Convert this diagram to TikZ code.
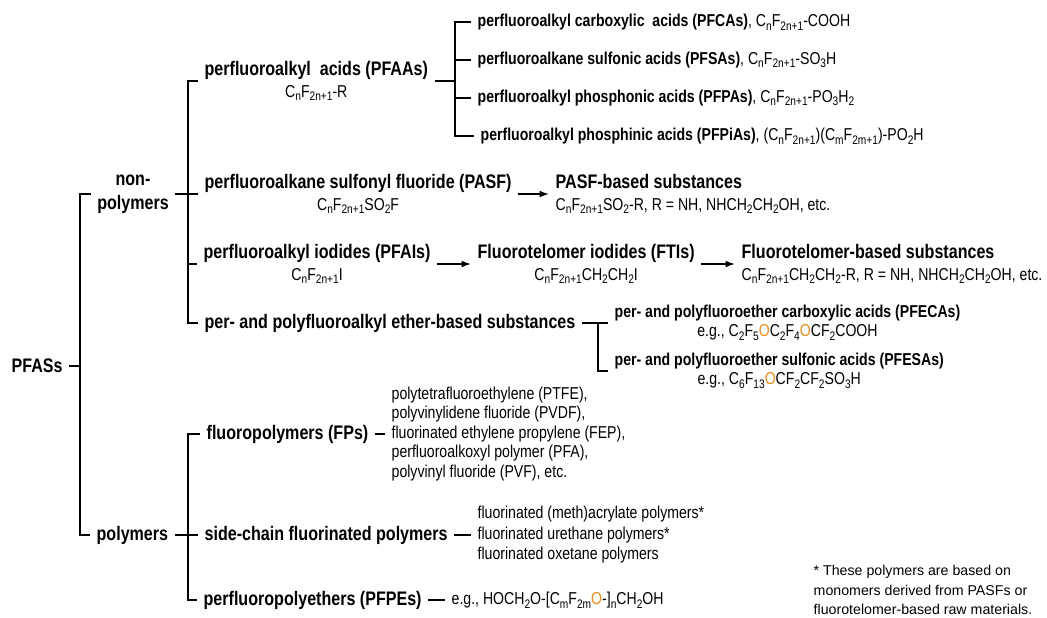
\documentclass[tikz,border=0pt]{standalone}
\usepackage{fontspec}
\setmainfont{Liberation Sans}[FakeStretch=0.82]
\newfontfamily\notefont{Liberation Sans}
\usetikzlibrary{arrows.meta}
\definecolor{etherO}{RGB}{232,140,30}
\newcommand{\chsub}[1]{\raisebox{-0.4ex}{\fontsize{9.3}{9.3}\selectfont#1}}
\newcommand{\eo}{\textcolor{etherO}{O}}
\newcommand{\ttl}{\fontsize{14.7}{16.1}\selectfont\bfseries}

\begin{document}
\begin{tikzpicture}[x=0.75pt,y=-0.75pt,line width=1pt,
  every node/.style={inner sep=0pt,outer xsep=5pt,font=\fontsize{12.9}{16.1}\selectfont},
  head/.style={anchor=west,align=center},
  arr/.style={-{Latex[length=7pt,width=5pt]}}]
\useasboundingbox (0,0) rectangle (1047,618);
\node[anchor=west,font=\ttl] (pfas) at (5,366) {PFASs};
\node[align=center,font=\fontsize{14.7}{18}\selectfont\bfseries] (nonpoly) at (133,194) {non-\\polymers};
\node[anchor=west,font=\ttl] (poly) at (90,535) {polymers};
\node[head] (pfaa) at (198,81) {{\ttl perfluoroalkyl\ \ acids (PFAAs)}\\C\chsub{n}F\chsub{2n+1}-R};
\node[head] (pasf) at (198,194) {{\ttl perfluoroalkane sulfonyl fluoride (PASF)}\\C\chsub{n}F\chsub{2n+1}SO\chsub{2}F};
\node[head] (pfai) at (197,264) {{\ttl perfluoroalkyl iodides (PFAIs)}\\C\chsub{n}F\chsub{2n+1}I};
\node[anchor=west,font=\ttl] (ether) at (198,323) {per- and polyfluoroalkyl ether-based substances};
\node[anchor=west] (pfca) at (471,22) {{\bfseries perfluoroalkyl carboxylic\ \ acids (PFCAs)}, C\chsub{n}F\chsub{2n+1}-COOH};
\node[anchor=west] (pfsa) at (471,60) {{\bfseries perfluoroalkane sulfonic acids (PFSAs)}, C\chsub{n}F\chsub{2n+1}-SO\chsub{3}H};
\node[anchor=west] (pfpa) at (471,98) {{\bfseries perfluoroalkyl phosphonic acids (PFPAs)}, C\chsub{n}F\chsub{2n+1}-PO\chsub{3}H\chsub{2}};
\node[anchor=west] (pfpia) at (474,136) {{\bfseries perfluoroalkyl phosphinic acids (PFPiAs)}, (C\chsub{n}F\chsub{2n+1})(C\chsub{m}F\chsub{2m+1})-PO\chsub{2}H};
\node[anchor=west,align=left] (pasfb) at (549,194) {{\ttl PASF-based substances}\\C\chsub{n}F\chsub{2n+1}SO\chsub{2}-R, R = NH, NHCH\chsub{2}CH\chsub{2}OH, etc.};
\node[head] (fti) at (471,264) {{\ttl Fluorotelomer iodides (FTIs)}\\C\chsub{n}F\chsub{2n+1}CH\chsub{2}CH\chsub{2}I};
\node[anchor=west,align=left] (ftb) at (735,264) {{\ttl Fluorotelomer-based substances}\\C\chsub{n}F\chsub{2n+1}CH\chsub{2}CH\chsub{2}-R, R = NH, NHCH\chsub{2}CH\chsub{2}OH, etc.};
\node[head,font=\fontsize{12.9}{14.3}\selectfont] (pfeca) at (608,323) {{\bfseries per- and polyfluoroether carboxylic acids (PFECAs)}\\e.g., C\chsub{2}F\chsub{5}\eo C\chsub{2}F\chsub{4}\eo CF\chsub{2}COOH};
\node[head,font=\fontsize{12.9}{14.3}\selectfont] (pfesa) at (608,371) {{\bfseries per- and polyfluoroether sulfonic acids (PFESAs)}\\e.g., C\chsub{6}F\chsub{13}\eo CF\chsub{2}CF\chsub{2}SO\chsub{3}H};
\node[anchor=west,font=\ttl] (fp) at (200,434) {fluoropolymers (FPs)};
\node[anchor=west,align=left,font=\fontsize{12.9}{14.6}\selectfont] (fplist) at (385,434) {polytetrafluoroethylene (PTFE),\\polyvinylidene fluoride (PVDF),\\fluorinated ethylene propylene (FEP),\\perfluoroalkoxyl polymer (PFA),\\polyvinyl fluoride (PVF), etc.};
\node[anchor=west,font=\ttl] (scfp) at (198,535) {side-chain fluorinated polymers};
\node[anchor=west,align=left,font=\fontsize{12.9}{15.4}\selectfont] (sclist) at (471,535) {fluorinated (meth)acrylate polymers*\\fluorinated urethane polymers*\\fluorinated oxetane polymers};
\node[anchor=west,font=\ttl] (pfpe) at (197,600) {perfluoropolyethers (PFPEs)};
\node[anchor=west] (pfpeex) at (445,600) {e.g., HOCH\chsub{2}O-[C\chsub{m}F\chsub{2m}\eo-]\chsub{n}CH\chsub{2}OH};
\node[anchor=west,align=left,font=\notefont\fontsize{10.65}{14.6}\selectfont] (note) at (807,590) {* These polymers are based on\\monomers derived from PASFs or\\fluorotelomer-based raw materials.};
\coordinate (s0) at (80,366);
\coordinate (s1) at (188,194);
\coordinate (s2) at (455,81);
\coordinate (s3) at (598,323);
\coordinate (s4) at (188,535);
\draw (pfas.east) -- (s0);
\draw (nonpoly.west) -| (s0) |- (poly.west);
\draw (nonpoly.east) -- (pasf.west);
\draw (pfaa.west) -| (s1) |- (ether.west);
\draw (s1 |- pfai.west) -- (pfai.west);
\draw (pfaa.east) -- (s2);
\draw (pfca.west) -| (s2) |- (pfpia.west);
\draw (s2 |- pfsa.west) -- (pfsa.west);
\draw (s2 |- pfpa.west) -- (pfpa.west);
\draw[arr] (pasf.east) -- (pasfb.west);
\draw[arr] (pfai.east) -- (fti.west);
\draw[arr] (fti.east) -- (ftb.west);
\draw (ether.east) -- (pfeca.west);
\draw (s3) |- (pfesa.west);
\draw (poly.east) -- (scfp.west);
\draw (fp.west) -| (s4) |- (pfpe.west);
\draw (fp.east) -- (fplist.west);
\draw (scfp.east) -- (sclist.west);
\draw (pfpe.east) -- (pfpeex.west);
\end{tikzpicture}
\end{document}
